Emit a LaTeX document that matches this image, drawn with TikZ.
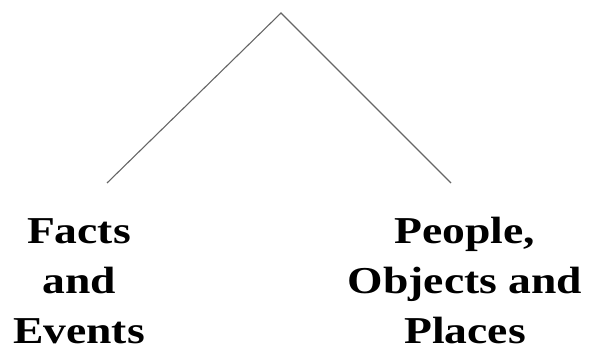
\documentclass[tikz,border=0pt]{standalone}
\usepackage{fontspec}
\newfontfamily\labelfont[FakeStretch=1.2]{Liberation Serif}
\usetikzlibrary{positioning}

\begin{document}
\begin{tikzpicture}[
    x=1pt, y=1pt,
    branch/.style={draw=black!60, line width=1.1pt},
    leaf/.style={
        align=center,
        inner sep=0pt,
        anchor=base,
        font=\labelfont\bfseries\fontsize{38}{50}\selectfont
    }
]

    \useasboundingbox (0,0) rectangle (592,351);

    \coordinate (root) at (281,338);
    \coordinate (leftend) at (107,168);
    \coordinate (rightend) at (451,168);

    \node[leaf] (facts) at (79,7) {Facts\\and\\Events};
    \node[leaf] (people) at (465,7) {People,\\Objects and\\Places};

    \draw[branch] (leftend) -- (root) -- (rightend);

\end{tikzpicture}
\end{document}
